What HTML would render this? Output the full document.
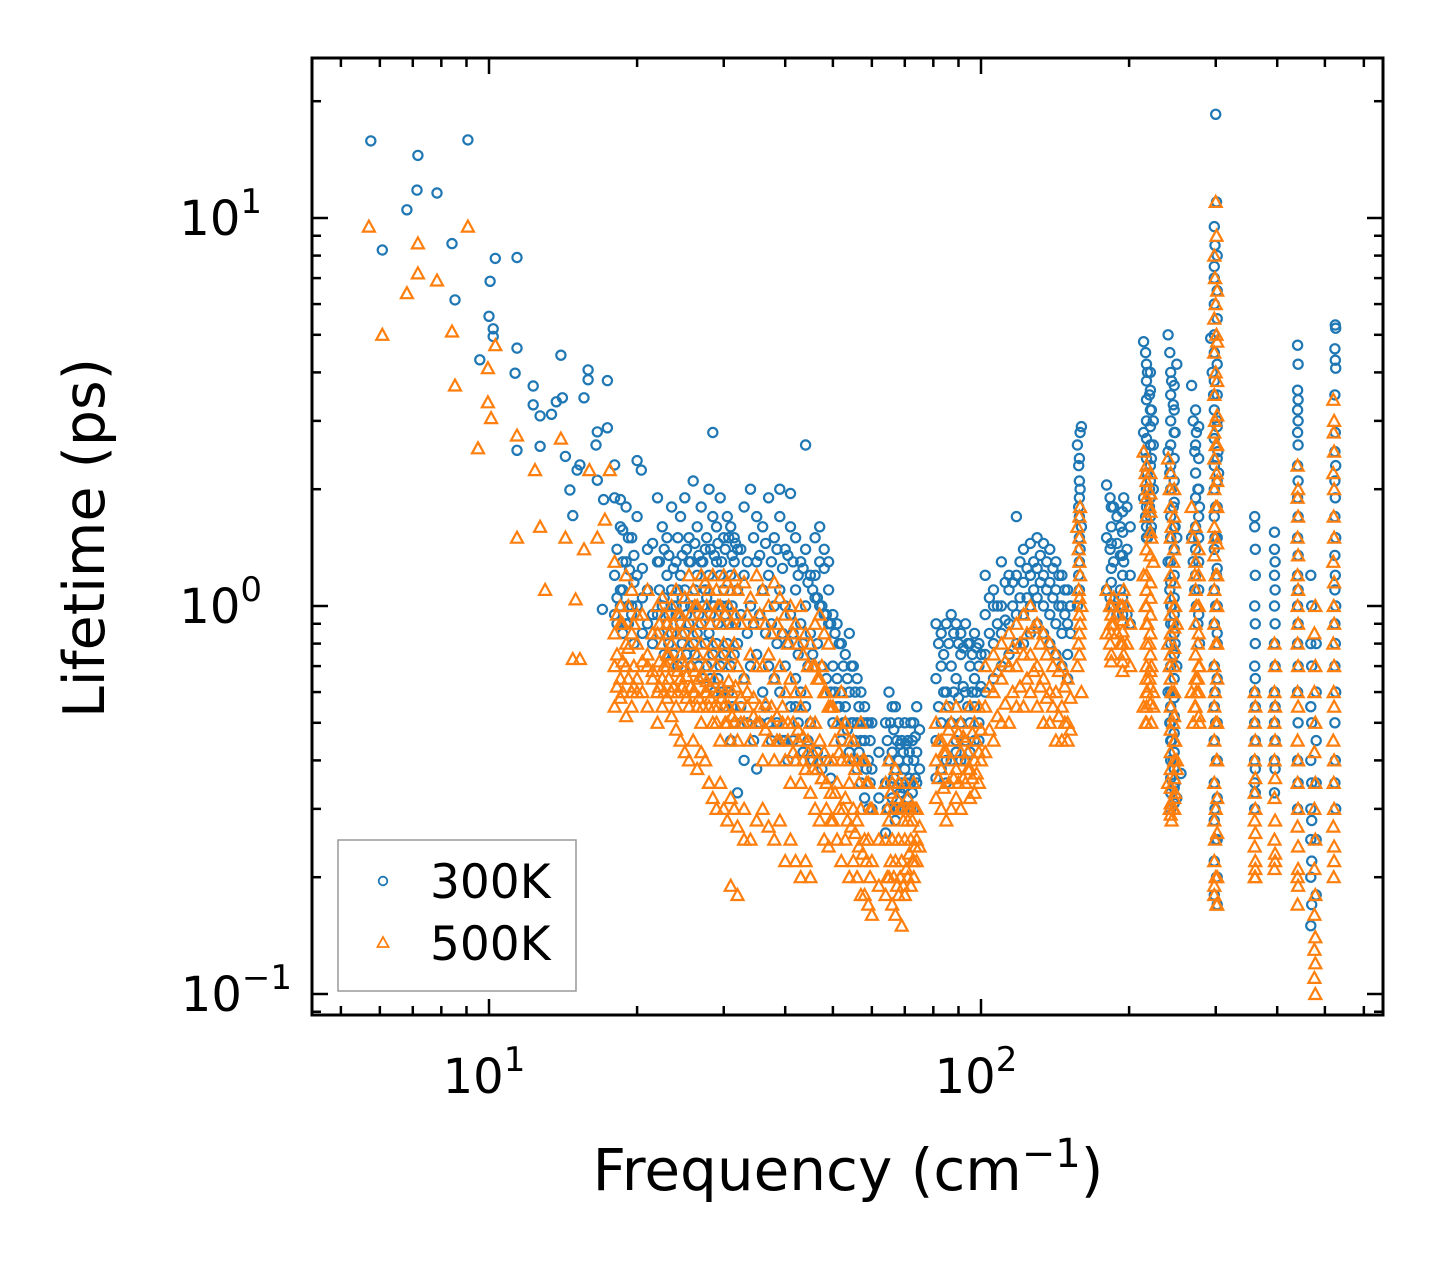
<!DOCTYPE html>
<html><head><meta charset="utf-8"><style>
html,body{margin:0;padding:0;background:#fff;}
svg{display:block;font-family:"DejaVu Sans","Liberation Sans",sans-serif;}
</style></head><body>
<svg id="chart" width="1442" height="1265" viewBox="0 0 1442 1265" xmlns="http://www.w3.org/2000/svg">
<rect x="0" y="0" width="1442" height="1265" fill="#fff"/>
<g id="marks300"></g>
<g id="marks500"></g>
<g id="ticks"></g>
<rect x="312" y="58" width="1071" height="957" fill="none" stroke="#000" stroke-width="3"/>
<text x="848" y="1190" font-size="58" text-anchor="middle">Frequency (cm<tspan font-size="40" dy="-23">−1</tspan><tspan dy="23">)</tspan></text>
<text transform="translate(104,538) rotate(-90)" font-size="57" text-anchor="middle">Lifetime (ps)</text>
<g>
<rect x="338" y="840" width="238" height="151" fill="#fff" stroke="#999" stroke-width="1.5"/>
<circle cx="383" cy="881" r="4.3" fill="none" stroke="#1f77b4" stroke-width="1.8"/>
<text x="430" y="898" font-size="47">300K</text>
<polygon points="383,937 388.5,947 377.5,947" fill="none" stroke="#ff7f0e" stroke-width="1.8"/>
<text x="430" y="960" font-size="47">500K</text>
</g>
</svg>
<script>
// ---- shared frequency grids ----
const clusterF=[18,18.5,19,19.5,20,21,22,22.5,23,23.5,24,24.5,25,25.5,26,26.5,27,27.5,28,28.5,29,29.5,30,30.5,31,31.5,32,33,34,35,36,37,38,39,40,41,42,43,44,45,46,47,48,49];
const clusterF2=[18.2,18.7,19.2,19.7,20.5,21.5,22.2,22.7,23.2,23.7,24.2,24.7,25.2,25.7,26.2,26.7,27.2,27.7,28.2,28.7,29.2,29.7,30.2,30.7,31.2,31.7,32.5,33.5,34.5,35.5,36.5,37.5,38.5,39.5,40.5,41.5,42.5,43.5,44.5,45.5,46.5,47.5,48.5,49.5];
const midF=[50,51,52,53,54,55,56,57,58,59,60,64,65,66,67,68,69,70,71,72,73,74];
const midF2=[50.5,51.5,52.5,53.5,54.5,55.5,56.5,57.5,58.5,59.5,62,64.5,65.5,66.5,67.5,68.5,69.5,70.5,71.5,72.5,73.5,75];
const hiF=[81,83,85,87,89,91,93,95,97,99,102,106,110,114,118,122,126,130,134,138,142,146,150];
const hiF2=[82,84,86,88,90,92,94,96,98,100,104,108,112,116,120,124,128,132,136,140,144,148,152];

// ---- 300K data ----
const lowF300=[5.75,6.07,6.81,7.14,7.17,7.84,8.41,8.53,9.06,9.58,10.0,10.05,10.2,10.2,10.3,11.4,11.3,11.4,11.4,12.3,12.3,12.7,12.7,13.4,13.7,14.0,14.1,14.3,14.6,14.8,15.1,15.3,15.6,15.9,15.9,16.5,16.6,16.6,17.4,17.4,17.1,17.0,18.0,18.5,18.7,19.3,20.0,20.4,28.5,39,41,44,31,32,33,35,37,40,45,42];
const lowL300=[15.8,8.27,10.5,11.8,14.5,11.6,8.59,6.15,15.9,4.31,5.58,6.87,5.18,4.95,7.87,7.91,3.98,4.62,2.52,3.69,3.30,3.09,2.58,3.12,3.36,4.43,3.44,2.43,1.99,1.71,2.24,2.31,3.44,4.06,3.83,2.60,2.81,2.11,3.81,2.88,1.88,0.98,2.31,1.88,1.57,1.24,2.37,2.24,2.8,2.0,1.95,2.6,0.45,0.33,0.4,0.38,0.5,0.45,0.4,0.55];
const clusterA300=[1.9,1.6,1.8,1.5,1.7,1.4,1.9,1.6,1.5,1.8,1.3,1.7,1.9,1.5,2.1,1.6,1.8,1.4,2.0,1.7,1.6,1.9,1.5,1.7,1.6,1.5,1.4,1.8,2.0,1.7,1.6,1.9,1.5,1.7,1.4,1.6,1.5,1.3,1.4,1.2,1.5,1.6,1.4,1.3];
const clusterB300=[1.2,1.1,1.3,1.0,1.2,1.1,1.3,1.0,1.2,1.1,1.0,1.2,1.1,1.3,1.0,1.2,1.3,1.1,1.2,1.0,1.3,1.2,1.1,1.0,1.2,1.3,1.1,1.2,1.0,1.3,1.1,1.2,1.0,1.1,1.0,0.95,1.1,0.9,1.0,0.85,1.2,1.3,1.25,1.1];
const clusterC300=[0.95,1.0,0.9,0.95,1.0,0.9,0.95,1.0,0.9,0.85,0.95,0.9,0.85,0.9,0.8,0.85,0.9,0.8,0.85,0.75,0.8,0.7,0.75,0.8,0.7,0.75,0.8,0.65,0.7,0.75,0.6,0.7,0.65,0.6,0.7,0.55,0.65,0.6,0.55,0.5,1.05,1.0,0.95,0.9];
const clusterD300=[1.4,1.3,1.5,1.35,1.25,1.45,1.3,1.4,1.35,1.25,1.5,1.35,1.4,1.3,1.45,1.35,1.3,1.5,1.4,1.35,1.45,1.3,1.4,1.5,1.35,1.45,1.4,1.3,1.5,1.35,1.45,1.3,1.4,1.25,1.35,1.3,1.2,1.25,1.15,1.1,1.05,1.0,0.95,0.9];
const clusterE300=[1.05,1.1,1.0,1.15,1.05,0.95,1.1,1.05,0.95,1.0,1.1,1.05,0.95,1.0,1.1,0.95,1.0,1.05,0.95,1.0,0.9,1.0,0.95,0.9,1.0,0.9,0.95,0.85,0.9,0.95,0.85,0.9,0.8,0.85,0.8,0.85,0.75,0.8,0.7,0.75,0.8,0.7,0.65,0.6];
const clusterG300=[0.9,0.85,0.9,0.8,0.85,0.8,0.85,0.75,0.8,0.75,0.7,0.8,0.75,0.7,0.75,0.7,0.65,0.7,0.65,0.6,0.65,0.6,0.55,0.6,0.55,0.5,0.55,0.5,0.45,0.5,0.55,0.45,0.5,0.45,0.4,0.45,0.5,0.42,0.45,0.4,0.42,0.38,0.4,0.36];
const midA300=[0.95,0.9,0.8,0.75,0.85,0.7,0.65,0.6,0.55,0.5,0.5,0.5,0.6,0.55,0.55,0.5,0.45,0.5,0.45,0.5,0.5,0.55];
const midB300=[0.7,0.65,0.6,0.55,0.6,0.5,0.5,0.45,0.45,0.4,0.38,0.35,0.4,0.42,0.38,0.4,0.35,0.38,0.4,0.35,0.4,0.42];
const midC300=[0.5,0.55,0.45,0.5,0.42,0.4,0.38,0.35,0.32,0.3,0.3,0.26,0.3,0.32,0.28,0.3,0.3,0.3,0.32,0.3,0.3,0.35];
const midD300=[0.85,0.8,0.7,0.65,0.7,0.6,0.55,0.5,0.5,0.45,0.42,0.45,0.5,0.48,0.45,0.44,0.42,0.44,0.42,0.45,0.46,0.48];
const midE300=[0.6,0.55,0.5,0.48,0.5,0.45,0.42,0.4,0.38,0.35,0.32,0.3,0.35,0.36,0.34,0.33,0.34,0.35,0.36,0.33,0.36,0.38];
const hiA300=[0.9,0.85,0.9,0.95,0.9,0.85,0.9,0.8,0.85,0.8,1.2,1.1,1.3,1.2,1.7,1.4,1.45,1.5,1.45,1.4,1.3,1.2,1.1];
const hiB300=[0.65,0.7,0.6,0.7,0.65,0.75,0.6,0.7,0.65,0.7,0.95,1.0,1.0,1.1,1.2,1.15,1.2,1.25,1.2,1.15,1.1,1.0,0.9];
const hiC300=[0.45,0.5,0.4,0.5,0.45,0.5,0.45,0.5,0.55,0.5,0.75,0.8,0.85,0.9,0.95,0.95,1.0,1.05,1.0,0.95,0.9,0.85,0.75];
const hiD300=[0.36,0.38,0.35,0.4,0.42,0.4,0.4,0.42,0.45,0.45,0.6,0.65,0.7,0.75,0.8,0.8,0.85,0.9,0.85,0.8,0.75,0.7,0.65];
const hiE300=[0.8,0.75,0.8,0.85,0.8,0.78,0.8,0.75,0.78,0.75,1.05,1.0,1.15,1.15,1.3,1.25,1.3,1.35,1.3,1.25,1.2,1.1,1.0];
const hiG300=[0.55,0.6,0.55,0.6,0.58,0.62,0.55,0.6,0.6,0.62,0.85,0.9,0.92,1.0,1.05,1.05,1.1,1.15,1.1,1.05,1.0,0.95,0.85];
const spikeF300=[157,158,159,160,158,159,158,157,159,160,
 180,183,186,189,192,195,198,201,180,183,186,189,192,195,198,201,180,183,186,189,192,195,198,201,
 214,216,218,220,222,224,214,216,218,220,222,224,214,216,218,220,222,224,
 240,242,244,246,248,250,240,242,244,246,248,250,240,242,244,246,248,250,240,242,244,246,248,250,255,
 268,270,272,274,276,278,268,270,272,274,276,278,
 293,295,297,298,299,300,301,302,303,304,300,299,301,300,302,299,300,301,299,300,301,
 360,360,360,360,360,360,360,360,360,
 395,395,395,395,395,395,395,395,395,
 440,440,440,440,440,440,440,440,440,440,440,440,440,
 468,468,468,468,468,468,468,468,480,480,480,480,480,480,
 525,526,525,526,525,526,525,526,525,526,525,526,525,526];
const spikeL300=[1.0,1.2,1.4,1.6,1.8,2.0,2.3,2.6,2.8,2.9,
 2.05,1.9,1.8,1.7,1.6,1.9,1.8,1.6,1.5,1.4,1.3,1.45,1.35,1.3,1.4,1.2,1.1,1.05,1.0,0.95,1.1,1.0,0.95,0.9,
 4.8,4.5,4.0,3.5,3.2,3.0,2.8,2.5,2.2,2.0,2.4,2.6,1.9,1.7,1.5,1.8,1.6,2.0,
 5.0,4.5,3.8,3.3,2.8,4.2,2.5,2.2,2.0,1.8,1.6,1.5,1.3,1.1,1.0,0.9,0.8,0.7,0.6,0.5,0.45,0.4,0.35,0.32,0.37,
 3.7,3.0,2.5,2.8,2.0,1.8,1.5,1.3,1.1,1.0,0.9,0.8,
 4.9,4.0,3.5,7.0,8.5,18.5,11.0,3.0,2.5,2.2,1.8,1.5,1.2,1.0,0.8,0.6,0.5,0.4,0.3,0.25,0.2,
 1.7,1.6,1.0,0.7,0.6,0.5,0.4,0.35,0.3,
 1.55,1.4,1.2,1.0,0.8,0.6,0.5,0.4,0.33,
 4.7,3.6,3.2,2.8,2.3,1.9,1.5,1.2,1.0,0.8,0.6,0.4,0.3,
 1.2,0.8,0.55,0.4,0.3,0.25,0.2,0.15,0.8,0.6,0.45,0.35,0.25,0.18,
 5.3,5.2,4.3,4.1,2.8,2.3,1.9,1.5,1.2,1.0,0.8,0.6,0.4,0.3];
// extra dense spike columns: column frequency + lifetimes in that column
const colFreq300=[158.5,184,194,217,221,243,247,273,277,298,302,361,396,441,470,524];
const colLife300=[
 [1.1,1.3,1.5,1.7,1.9,2.1,2.4],
 [1.8,1.6,1.45,1.25,1.15,1.0],
 [1.75,1.55,1.35,1.2,1.05,0.95],
 [4.2,3.8,3.4,3.0,2.7,2.4,2.2,2.0,1.8,1.6,1.5],
 [4.0,3.6,3.2,2.9,2.6,2.3,2.1,1.9,1.7,1.55],
 [4.0,3.5,3.0,2.6,2.3,2.0,1.7,1.5,1.3,1.15,1.0,0.9,0.8,0.7,0.6,0.55,0.5,0.45,0.4,0.36,0.33,0.3],
 [3.7,3.2,2.8,2.4,2.1,1.85,1.6,1.4,1.2,1.05,0.95,0.85,0.75,0.65,0.58,0.52,0.47,0.42,0.38,0.34,0.31],
 [3.2,2.6,2.2,1.9,1.6,1.4,1.2],
 [2.9,2.4,2.0,1.7,1.5,1.3,1.1,0.95],
 [9.5,7.5,6,5,4.5,3.8,3.2,2.7,2.3,2.0,1.7,1.4,1.1,0.9,0.7,0.55,0.45,0.35,0.28,0.22,0.18],
 [8,6.5,5.5,4.2,3.5,2.9,2.4,2.1,1.8,1.5,1.25,1.0,0.85,0.65,0.5,0.4,0.32,0.25,0.2,0.17],
 [1.4,1.2,0.9,0.8,0.65,0.55,0.45,0.38,0.33],
 [1.3,1.1,0.9,0.7,0.55,0.45,0.38],
 [4.2,3.4,3.0,2.6,2.1,1.7,1.35,1.1,0.9,0.7,0.5,0.35],
 [1.0,0.7,0.5,0.35,0.28,0.22,0.17],
 [4.6,3.5,2.5,2.1,1.7,1.35,1.1,0.9,0.7,0.5,0.35]];
const freq300=[...lowF300,...clusterF,...clusterF,...clusterF,...clusterF2,...clusterF2,...clusterF2,...midF,...midF,...midF,...midF2,...midF2,...hiF,...hiF,...hiF,...hiF,...hiF2,...hiF2,...spikeF300];
const life300=[...lowL300,...clusterA300,...clusterB300,...clusterC300,...clusterD300,...clusterE300,...clusterG300,...midA300,...midB300,...midC300,...midD300,...midE300,...hiA300,...hiB300,...hiC300,...hiD300,...hiE300,...hiG300,...spikeL300];

// ---- 500K data ----
const lowF500=[5.70,6.07,6.81,7.17,7.17,7.84,8.41,8.53,9.06,9.5,9.95,9.95,10.1,10.3,11.4,11.4,12.4,12.7,13.0,14.0,14.3,15.0,14.8,15.3,15.6,16.0,16.6,17.2,17.6,31,32,28,33];
const lowL500=[9.5,5.0,6.4,8.6,7.2,6.9,5.1,3.7,9.5,2.55,4.1,3.35,3.05,4.7,2.75,1.5,2.24,1.6,1.1,2.7,1.5,1.04,0.73,0.73,1.4,2.24,1.5,1.67,2.24,0.19,0.18,0.35,0.25];
const clusterA500=[1.3,1.0,1.2,1.1,0.95,1.1,1.0,1.05,0.9,1.0,1.1,0.95,1.05,1.2,1.1,1.0,1.2,1.15,1.1,1.2,1.1,1.0,1.2,1.15,1.1,1.2,1.1,1.15,1.05,1.2,1.1,1.0,1.15,1.05,0.95,1.0,0.9,1.0,0.85,0.8,0.9,0.95,0.85,0.8];
const clusterB500=[0.85,0.9,0.8,0.85,0.8,0.75,0.85,0.8,0.75,0.8,0.85,0.75,0.7,0.8,0.85,0.75,0.8,0.7,0.75,0.8,0.7,0.75,0.8,0.7,0.75,0.8,0.7,0.65,0.75,0.7,0.7,0.75,0.65,0.7,0.6,0.65,0.6,0.55,0.6,0.5,0.7,0.65,0.6,0.55];
const clusterC500=[0.7,0.65,0.7,0.6,0.65,0.7,0.6,0.65,0.7,0.6,0.55,0.65,0.6,0.55,0.6,0.55,0.5,0.6,0.55,0.5,0.5,0.45,0.55,0.5,0.45,0.5,0.45,0.5,0.45,0.5,0.4,0.45,0.4,0.45,0.4,0.35,0.4,0.35,0.38,0.33,0.5,0.45,0.42,0.4];
const clusterD500=[0.55,0.58,0.52,0.55,0.6,0.55,0.5,0.55,0.58,0.52,0.48,0.45,0.42,0.4,0.45,0.38,0.42,0.4,0.35,0.32,0.3,0.35,0.3,0.28,0.32,0.3,0.27,0.3,0.25,0.28,0.3,0.27,0.25,0.28,0.22,0.25,0.22,0.2,0.22,0.2,0.3,0.28,0.25,0.24];
const clusterE500=[0.95,0.9,1.0,0.9,0.95,0.85,0.9,0.95,0.85,0.9,0.95,0.85,0.9,0.95,1.0,0.9,0.95,1.0,0.9,0.95,1.0,0.9,0.95,1.0,0.9,0.95,0.9,0.95,0.9,0.95,0.9,0.85,0.9,0.85,0.8,0.85,0.8,0.75,0.7,0.7,0.65,0.7,0.6,0.55];
const clusterF500=[0.62,0.6,0.65,0.62,0.6,0.65,0.62,0.6,0.65,0.62,0.6,0.62,0.58,0.62,0.6,0.58,0.55,0.6,0.58,0.55,0.55,0.58,0.5,0.55,0.52,0.55,0.5,0.55,0.52,0.5,0.48,0.5,0.45,0.5,0.45,0.42,0.45,0.4,0.42,0.38,0.4,0.36,0.35,0.33];
const clusterG500=[0.75,0.72,0.78,0.7,0.72,0.68,0.72,0.7,0.75,0.7,0.68,0.72,0.66,0.7,0.68,0.65,0.66,0.64,0.62,0.65,0.6,0.62,0.6,0.64,0.6,0.62,0.58,0.6,0.58,0.55,0.56,0.55,0.52,0.55,0.5,0.5,0.48,0.46,0.45,0.42,0.38,0.36,0.3,0.28];
const midA500=[0.55,0.5,0.6,0.5,0.45,0.45,0.4,0.5,0.4,0.35,0.3,0.35,0.4,0.35,0.38,0.35,0.3,0.35,0.32,0.3,0.35,0.3];
const midB500=[0.4,0.35,0.4,0.32,0.35,0.3,0.28,0.3,0.25,0.25,0.22,0.25,0.28,0.25,0.22,0.25,0.22,0.25,0.28,0.25,0.22,0.25];
const midC500=[0.28,0.25,0.22,0.25,0.2,0.22,0.2,0.18,0.18,0.17,0.16,0.18,0.2,0.17,0.16,0.18,0.15,0.18,0.2,0.19,0.2,0.22];
const midD500=[0.45,0.42,0.48,0.4,0.4,0.38,0.35,0.4,0.35,0.3,0.25,0.3,0.33,0.3,0.32,0.3,0.28,0.3,0.3,0.28,0.3,0.27];
const midE500=[0.33,0.3,0.3,0.28,0.27,0.26,0.24,0.23,0.22,0.2,0.19,0.2,0.22,0.2,0.19,0.2,0.19,0.21,0.23,0.22,0.24,0.24];
const hiA500=[0.5,0.45,0.55,0.5,0.55,0.5,0.45,0.55,0.5,0.55,0.7,0.75,0.8,0.85,0.9,0.95,1.0,0.9,0.85,0.8,0.75,0.7,0.65];
const hiB500=[0.4,0.38,0.42,0.4,0.38,0.42,0.4,0.38,0.4,0.42,0.55,0.6,0.65,0.7,0.7,0.75,0.75,0.7,0.65,0.6,0.6,0.55,0.5];
const hiC500=[0.32,0.3,0.28,0.3,0.32,0.3,0.35,0.32,0.33,0.35,0.42,0.45,0.5,0.5,0.55,0.55,0.6,0.55,0.5,0.5,0.45,0.45,0.45];
const hiD500=[0.45,0.42,0.48,0.45,0.47,0.46,0.42,0.47,0.45,0.48,0.62,0.68,0.72,0.78,0.8,0.85,0.88,0.8,0.75,0.7,0.68,0.62,0.58];
const hiE500=[0.36,0.34,0.35,0.36,0.35,0.36,0.38,0.36,0.37,0.4,0.48,0.52,0.56,0.6,0.62,0.65,0.68,0.62,0.58,0.55,0.52,0.5,0.48];
const spikeF500=[157,158,159,160,158,159,158,157,159,160,
 180,183,186,189,192,195,198,201,180,183,186,189,192,195,198,201,
 214,216,218,220,222,224,214,216,218,220,222,224,214,216,218,220,222,224,
 240,242,244,246,248,250,240,242,244,246,248,250,240,242,244,246,248,250,
 268,270,272,274,276,278,268,270,272,274,276,278,
 300,301,299,300,301,300,299,300,301,300,299,300,301,300,299,300,301,300,299,300,301,
 360,360,360,360,360,360,360,
 395,395,395,395,395,395,395,
 440,440,440,440,440,440,440,440,440,440,440,440,
 478,478,478,478,478,478,478,478,478,
 520,521,520,521,520,521,520,521,520,521,520,521];
const spikeL500=[0.7,0.8,0.9,1.0,1.1,1.2,1.4,1.6,1.8,0.6,
 1.1,1.0,1.05,0.95,1.0,1.1,1.0,0.9,0.85,0.8,0.9,0.85,0.8,0.75,0.8,0.7,
 2.5,2.2,2.0,1.8,1.5,1.3,1.2,1.0,0.9,0.8,0.7,0.6,0.55,0.5,0.6,0.65,0.5,0.55,
 2.4,2.0,1.6,1.3,1.0,0.9,0.8,0.7,0.6,0.5,0.45,0.4,0.35,0.3,0.28,0.3,0.33,0.38,
 1.8,1.5,1.2,1.0,0.8,0.7,0.6,0.5,0.55,0.6,0.65,0.5,
 11,9,7,6,5,4,3,2.6,2.2,1.8,1.5,1.2,1.0,0.8,0.6,0.5,0.4,0.3,0.25,0.2,0.17,
 0.6,0.5,0.4,0.33,0.28,0.24,0.2,
 0.8,0.6,0.5,0.4,0.32,0.25,0.21,
 2.3,1.9,1.5,1.2,1.0,0.8,0.6,0.45,0.35,0.27,0.2,0.17,
 1.0,0.7,0.5,0.35,0.25,0.18,0.14,0.12,0.1,
 3.4,2.8,2.2,1.7,1.3,1.0,0.8,0.6,0.45,0.35,0.27,0.2];
const colFreq500=[158.5,184,194,217,221,243,247,273,277,298,302,361,396,441,476,522];
const colLife500=[
 [0.75,0.85,0.95,1.05,1.3,1.5,1.7],
 [1.0,0.95,0.9,0.85,0.75,0.72],
 [1.0,0.92,0.86,0.8,0.72,0.68],
 [2.3,2.1,1.9,1.7,1.4,1.2,1.1,1.0,0.9,0.8,0.7,0.65,0.6,0.55,0.5],
 [2.2,1.95,1.75,1.55,1.35,1.15,1.05,0.95,0.85,0.75,0.68,0.62,0.56],
 [2.2,1.8,1.5,1.2,1.05,0.95,0.85,0.75,0.65,0.55,0.48,0.42,0.38,0.34,0.31,0.29],
 [2.0,1.7,1.4,1.15,1.0,0.88,0.78,0.7,0.6,0.52,0.45,0.4,0.36,0.32,0.3],
 [1.6,1.3,1.1,0.9,0.75,0.65,0.55],
 [1.4,1.2,1.0,0.85,0.7,0.6,0.52],
 [8,5.5,4.5,3.5,2.8,2.4,2.0,1.6,1.35,1.1,0.9,0.7,0.55,0.45,0.35,0.28,0.22,0.19,0.18],
 [6.5,4.8,3.8,3.1,2.6,2.1,1.8,1.45,1.2,1.0,0.8,0.65,0.5,0.4,0.32,0.26,0.2,0.17],
 [0.55,0.45,0.36,0.3,0.26,0.22,0.21,0.2],
 [0.7,0.55,0.45,0.36,0.28,0.23,0.22],
 [2.0,1.7,1.35,1.1,0.9,0.7,0.55,0.4,0.3,0.24,0.21,0.19],
 [0.85,0.6,0.42,0.3,0.21,0.16,0.13,0.11],
 [3.0,2.5,2.0,1.5,1.15,0.9,0.7,0.55,0.4,0.3,0.24,0.22]];
const freq500=[...lowF500,...clusterF,...clusterF,...clusterF,...clusterF,...clusterF2,...clusterF2,...clusterF2,...midF,...midF,...midF,...midF2,...midF2,...hiF,...hiF,...hiF,...hiF2,...hiF2,...spikeF500];
const life500=[...lowL500,...clusterA500,...clusterB500,...clusterC500,...clusterD500,...clusterE500,...clusterF500,...clusterG500,...midA500,...midB500,...midC500,...midD500,...midE500,...hiA500,...hiB500,...hiC500,...hiD500,...hiE500,...spikeL500];

// ---- axes ----
const xMajor=[10,100];
const xMajorLabels=["1","2"];
const xMinor=[5,6,7,8,9,20,30,40,50,60,70,80,90,200,300,400,500,600];
const yMajor=[0.1,1,10];
const yMajorLabels=["−1","0","1"];
const yMinor=[0.09,0.2,0.3,0.4,0.5,0.6,0.7,0.8,0.9,2,3,4,5,6,7,8,9,20];

const X0=312,X1=1383,Y0=58,Y1=1015;
function xs(f){return 489+492*(Math.log10(f)-1);}
function ys(t){return 606-388*Math.log10(t);}
const NS="http://www.w3.org/2000/svg";
function mk(tag,attrs,parent){const e=document.createElementNS(NS,tag);for(const k in attrs)e.setAttribute(k,attrs[k]);parent.appendChild(e);return e;}

const g3=document.getElementById('marks300');
function circ(f,t){
  const c=mk('circle',{cx:xs(f).toFixed(1),cy:ys(t).toFixed(1),r:4.6,fill:'none',stroke:'#1f77b4','stroke-width':2.2},g3);
  
  
}
for(let i=0;i<freq300.length;i++) circ(freq300[i],life300[i]);
colFreq300.forEach((f,j)=>colLife300[j].forEach(t=>circ(f,t)));

const g5=document.getElementById('marks500');
function tri(f,t){
  const x=xs(f),y=ys(t);
  const p=mk('polygon',{points:`${x.toFixed(1)},${(y-6).toFixed(1)} ${(x+6).toFixed(1)},${(y+5).toFixed(1)} ${(x-6).toFixed(1)},${(y+5).toFixed(1)}`,fill:'none',stroke:'#ff7f0e','stroke-width':2.2},g5);
  
  
}
for(let i=0;i<freq500.length;i++) tri(freq500[i],life500[i]);
colFreq500.forEach((f,j)=>colLife500[j].forEach(t=>tri(f,t)));

const gt=document.getElementById('ticks');
const svg=document.getElementById('chart');
function tick(x1,y1,x2,y2){const l=mk('line',{x1,y1,x2,y2,stroke:'#000','stroke-width':2.5},gt);}
xMajor.forEach((f,i)=>{const x=xs(f);tick(x,Y1,x,Y1-16);tick(x,Y0,x,Y0+16);
  const t=mk('text',{x:x-5,y:1093,'font-size':48,'text-anchor':'middle'},svg);
  
  
  t.innerHTML='10<tspan font-size="34" dy="-22">'+xMajorLabels[i]+'</tspan>';});
xMinor.forEach(f=>{const x=xs(f);if(x<X0||x>X1)return;tick(x,Y1,x,Y1-9);tick(x,Y0,x,Y0+9);});
yMajor.forEach((v,i)=>{const y=ys(v);tick(X0,y,X0+16,y);tick(X1,y,X1-16,y);
  const t=mk('text',{x:yMajorLabels[i].length>1?292:262,y:y+17,'font-size':48,'text-anchor':'end'},svg);
  
  
  t.innerHTML='10<tspan font-size="34" dy="-22">'+yMajorLabels[i]+'</tspan>';});
yMinor.forEach(v=>{const y=ys(v);if(y<Y0||y>Y1)return;tick(X0,y,X0+9,y);tick(X1,y,X1-9,y);});
</script>
</body></html>
